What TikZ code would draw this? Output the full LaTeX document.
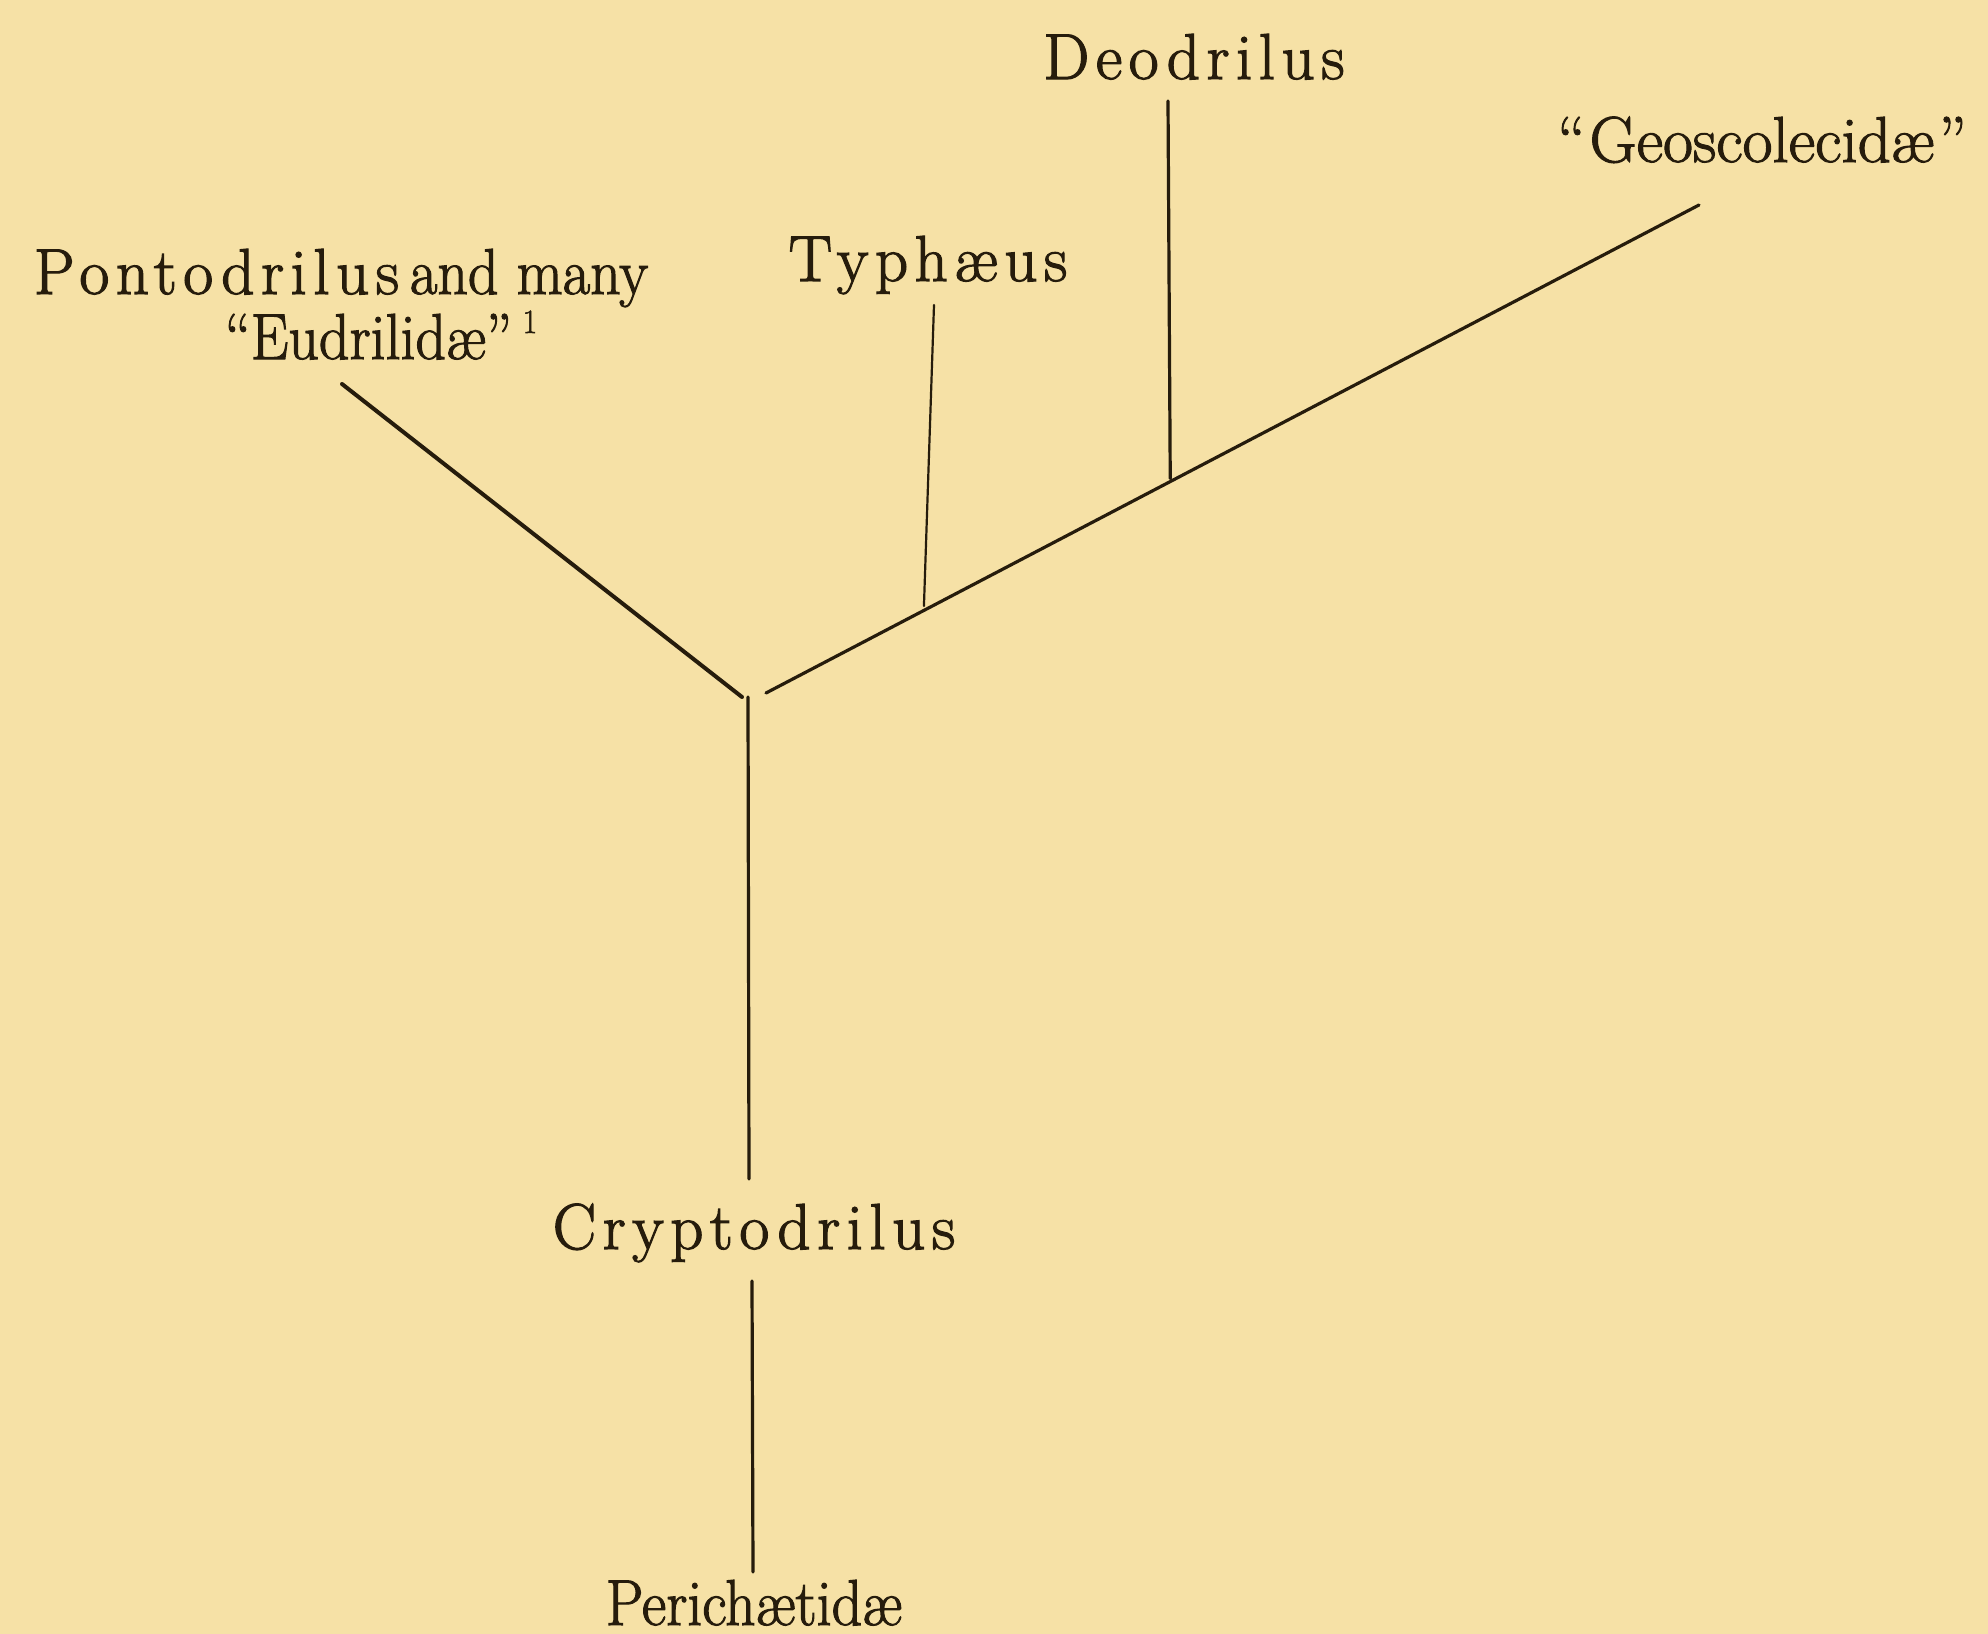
\documentclass[tikz,border=0pt]{standalone}
\usepackage{fontspec}
\setmainfont{Latin Modern Roman}[FakeBold=1.6]
\newfontfamily\spaced[LetterSpace=10,FakeBold=1.8]{Latin Modern Roman}
\newfontfamily\narrow[FakeStretch=0.92,FakeBold=1.6]{Latin Modern Roman}
\newfontfamily\plain[FakeBold=1.6]{Latin Modern Roman}
\usetikzlibrary{calc}
\definecolor{paper}{RGB}{246,225,166}
\definecolor{ink}{RGB}{38,28,12}
\tikzset{
  lbl/.style={anchor=base, inner sep=0pt, text=ink, font=\fontsize{32.5}{39}\selectfont},
  branch/.style={draw=ink, line width=1.6pt, line cap=round},
  thin/.style={draw=ink, line width=1.1pt, line cap=round}
}
\begin{document}
\begin{tikzpicture}[x=0.5pt,y=-0.5pt]
\fill[paper] (0,0) rectangle (1988,1634);
\useasboundingbox (0,0) rectangle (1988,1634);
% labels
\node[lbl] (pont1) at (341,294) {{\spaced Pontodrilus}\,{\narrow and many}};
\node[lbl] (pont2) at (381,359) {\narrow “Eudrilidæ”\,\raisebox{0.4em}{\fontsize{17}{20}\selectfont 1}};
\node[lbl] (typh) at (928,281) {\spaced Typhæus};
\node[lbl] (deo) at (1194,79) {\spaced Deodrilus};
\node[lbl] (geo) at (1762,162) {\plain “\kern2pt Geoscolecidæ\kern2pt”};
\node[lbl] (crypt) at (754,1249) {\spaced Cryptodrilus};
\node[lbl] (peri) at (754,1625) {\narrow Perichætidæ};
% junction and ends
\coordinate (J) at (748,697);
\coordinate (Lend) at (342,384);
\coordinate (Rend) at (1699,205);
\coordinate (Tb) at ($(J)!0.185!(Rend)$);
\coordinate (Db) at ($(J)!0.444!(Rend)$);
\coordinate (Tt) at (934,305);
\coordinate (Dt) at (1168,101);
\coordinate (Cu) at (749,1179);
\coordinate (Cl) at (752,1281);
\coordinate (Pt) at (753,1572);
% connectors
\draw[branch, line width=2pt] (Lend) -- ([xshift=-3]J);
\draw[branch] ([xshift=9,yshift=2]J) -- (Rend);
\draw[thin] (Tt) -- (Tb);
\draw[branch] (Dt) -- (Db);
\draw[branch] (J) -- (Cu);
\draw[branch] (Cl) -- (Pt);
\end{tikzpicture}
\end{document}
